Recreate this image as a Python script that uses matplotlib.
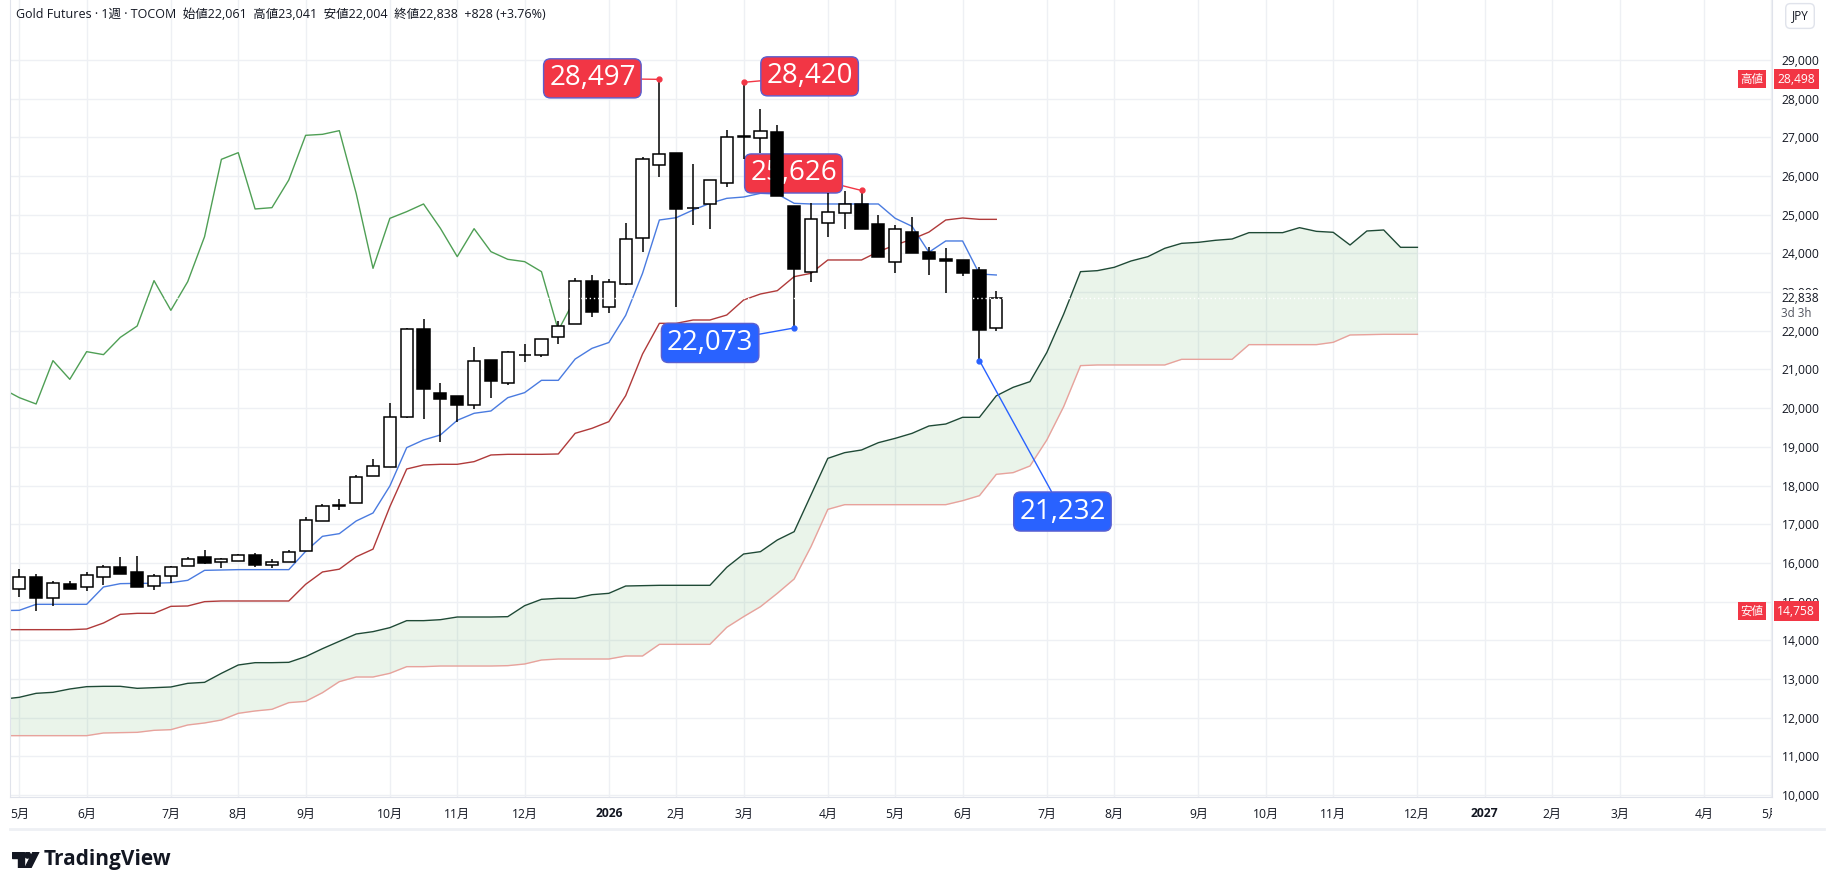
import numpy as np
import matplotlib.pyplot as plt
from matplotlib.patches import Rectangle, Polygon, Circle

plt.rcParams['font.family'] = ['Open Sans', 'Noto Sans CJK JP', 'DejaVu Sans']

# weekly bars, bar 0 = 2025-05-05
opens = [15319, 15638, 15087, 15449, 15371, 15647, 15888, 15759, 15397, 15655,
         15914, 16146, 16017, 16060, 16198, 15957, 16034, 16301, 17076, 17490,
         17541, 18239, 18490, 19764, 22038, 20384, 20316, 20092, 21246, 20643,
         21366, 21366, 21831, 22167, 23278, 22607, 23218, 24389, 26276, 26586,
         25164, 25285, 25810, 26999, 26973, 27137, 25225, 23511, 24777, 25035,
         25268, 24760, 23769, 24562, 24045, 23856, 23830, 23571, 22061]
highs = [15845, 15707, 15535, 15526, 15767, 15948, 16155, 16181, 15707, 15922,
         16146, 16336, 16138, 16220, 16250, 16095, 16336, 17180, 17524, 17645,
         18274, 18678, 20135, 22064, 22305, 20643, 20316, 21573, 21246, 21478,
         21650, 21780, 22253, 23356, 23442, 23339, 24785, 26499, 28497, 26603,
         26301, 25888, 27188, 28420, 27731, 27309, 25225, 25294, 25552, 25612,
         25626, 24992, 24734, 24932, 24174, 24131, 23830, 23640, 23041]
lows = [15130, 14758, 14897, 15337, 15285, 15440, 15724, 15388, 15311, 15491,
        15914, 15974, 15879, 16040, 15897, 15879, 16034, 16301, 17076, 17378,
        17541, 18239, 18472, 19738, 19730, 19136, 19652, 19971, 20272, 20591,
        21203, 21315, 21668, 22167, 22365, 22452, 23183, 24045, 25983, 22624,
        24734, 24639, 25724, 26431, 26586, 25492, 22073, 23252, 24415, 24622,
        24622, 23898, 23485, 24002, 23433, 22986, 23425, 21232, 22004]
closes = [15630, 15104, 15474, 15337, 15681, 15888, 15724, 15388, 15655, 15888,
          16094, 16008, 16094, 16198, 15957, 16017, 16275, 17102, 17464, 17470,
          18213, 18498, 19764, 22038, 20505, 20247, 20092, 21211, 20712, 21444,
          21372, 21780, 22116, 23278, 22495, 23253, 24381, 26431, 26577, 25139,
          25172, 25888, 27016, 27042, 27163, 25492, 23588, 24880, 25061, 25268,
          24639, 23898, 24639, 24002, 23847, 23795, 23502, 22010, 22838]

# ichimoku lines, all starting at bar -1
tenkan = [14770, 14777, 14932, 14932, 14932, 14932, 15380, 15466, 15474, 15474,
          15492, 15552, 15810, 15819, 15828, 15828, 15828, 15828, 16301, 16689,
          16758, 17085, 17292, 17990, 18981, 19179, 19308, 19687, 19868, 19928,
          20272, 20402, 20720, 20720, 21270, 21547, 21697, 22400, 23485, 24863,
          24923, 25121, 25294, 25423, 25457, 25552, 25535, 25294, 25277, 25277,
          25277, 25277, 25277, 24906, 24700, 24030, 24321, 24321, 23468, 23442]
kijun = [14277, 14277, 14277, 14277, 14277, 14294, 14449, 14673, 14699, 14699,
         14880, 14889, 15001, 15018, 15018, 15018, 15018, 15018, 15449, 15768,
         15840, 16160, 16358, 17454, 18429, 18533, 18550, 18550, 18619, 18791,
         18808, 18808, 18808, 18817, 19351, 19480, 19652, 20324, 21400, 22193,
         22193, 22279, 22279, 22408, 22796, 22951, 23037, 23399, 23485, 23830,
         23830, 23830, 24045, 24217, 24368, 24550, 24863, 24915, 24880, 24880]
chikou = [20505, 20273, 20109, 21229, 20746, 21461, 21384, 21831, 22124, 23296,
          22529, 23270, 24433, 26431, 26603, 25148, 25182, 25897, 27051, 27077,
          27172, 25552, 23614, 24906, 25079, 25277, 24648, 23916, 24639, 24045,
          23847, 23787, 23528, 22010, 22838]
span_a = [12480, 12529, 12632, 12658, 12744, 12804, 12813, 12813, 12761, 12778,
          12796, 12890, 12916, 13149, 13364, 13424, 13424, 13433, 13580, 13786,
          13976, 14165, 14226, 14329, 14510, 14510, 14535, 14604, 14604, 14604,
          14613, 14897, 15061, 15087, 15087, 15181, 15216, 15405, 15414, 15423,
          15423, 15423, 15423, 15888, 16232, 16293, 16594, 16809, 17757, 18704,
          18851, 18920, 19109, 19221, 19350, 19540, 19591, 19764, 19764, 20320,
          20539, 20686, 21440, 22430, 23528, 23554, 23640, 23804, 23916, 24131,
          24260, 24286, 24338, 24372, 24536, 24536, 24536, 24665, 24570, 24545,
          24217, 24579, 24605, 24157, 24157]
span_b = [11538, 11538, 11538, 11538, 11538, 11538,
          11607, 11616, 11624, 11676, 11693, 11814, 11866, 11943, 12115, 12176,
          12219, 12391, 12425, 12649, 12934, 13054, 13054, 13149, 13321, 13321,
          13338, 13338, 13338, 13338, 13347, 13390, 13493, 13519, 13519, 13519,
          13519, 13597, 13597, 13898, 13898, 13898, 13898, 14337, 14613, 14871,
          15216, 15586, 16422, 17386, 17507, 17507, 17507, 17507, 17507, 17507,
          17507, 17610, 17740, 18291, 18335, 18507, 19179, 20040, 21100, 21117,
          21117, 21117, 21117, 21117, 21263, 21263, 21263, 21263, 21642, 21642,
          21642, 21642, 21642, 21702, 21892, 21900, 21909, 21909, 21909]

month_pos = [0, 4, 9, 13, 17, 22, 26, 30, 35, 39, 43, 48, 52, 56, 61, 65, 70,
             74, 78, 83, 87, 91, 95, 100, 104]
month_labels = ['5月', '6月', '7月', '8月', '9月', '10月', '11月', '12月', '2026',
                '2月', '3月', '4月', '5月', '6月', '7月', '8月', '9月', '10月',
                '11月', '12月', '2027', '2月', '3月', '4月', '5月']

W, H = 1828, 889
TXT = '#131722'
fig = plt.figure(figsize=(W / 100, H / 100), dpi=100)
ax = fig.add_axes([10 / W, 1 - 797 / H, 1762 / W, 797 / H])
ax.set_xlim(-0.55, 104.05)
ax.set_ylim(9953, 30548)

# grid + axes
ax.set_xticks(month_pos)
ax.set_yticks(range(10000, 30000, 1000))
ax.grid(color='#eef0f4', lw=1)
ax.set_axisbelow(True)
ax.yaxis.tick_right()
ax.yaxis.set_major_formatter(lambda v, p: f'{v:,.0f}')
ax.tick_params(axis='y', length=0, pad=7, labelsize=8.7, labelcolor=TXT)
ax.tick_params(axis='x', length=0, labelbottom=False)
for s in ax.spines.values():
    s.set_color('#e0e3eb')
ax.spines['top'].set_visible(False)

# cloud + ichimoku lines
xa = np.arange(-1, len(span_a) - 1)
ax.fill_between(xa, span_a, span_b, color='#43a047', alpha=0.11, lw=0, zorder=2)
ax.plot(xa, span_a, color='#1f4a36', lw=1.0, zorder=2.2)
ax.plot(xa, span_b, color='#e8a29c', lw=1.0, zorder=2.2)
xl = np.arange(-1, len(tenkan) - 1)
ax.plot(xl, tenkan, color='#4a7be0', lw=1.0, zorder=2.3)
ax.plot(xl, kijun, color='#b03a3a', lw=1.0, zorder=2.3)
ax.plot(np.arange(-1, len(chikou) - 1), chikou, color='#4f9f55', lw=1.0, zorder=2.3)

# candles
for i, (o, h, l, c) in enumerate(zip(opens, highs, lows, closes)):
    ax.plot([i, i], [l, h], color='black', lw=1.1, zorder=4, solid_capstyle='butt')
    ax.add_patch(Rectangle((i - 0.36, min(o, c)), 0.72, max(abs(c - o), 15),
                           fc='white' if c >= o else 'black', ec='black',
                           lw=1.1, zorder=5))

# current price line
ax.axhline(closes[-1], color='white', lw=1, ls=(0, (1, 2)), zorder=6)

# high / low tags
RED, BLUE = '#f23645', '#2962ff'


def tag(i, y, col, dx, dy):
    ax.plot(i, y, 'o', ms=3.5, color=col, zorder=5.5)
    ax.annotate(f'{y:,}', xy=(i, y), xytext=(dx, dy), textcoords='offset pixels',
                ha='center', va='center', fontsize=20, color='white', zorder=3,
                bbox=dict(boxstyle='round,pad=0.2,rounding_size=0.25', fc=col,
                          ec='#5a5fd0', lw=1),
                arrowprops=dict(arrowstyle='-', color=col, lw=1,
                                shrinkA=0, shrinkB=0))


tag(38, highs[38], RED, -67, 1)
tag(43, highs[43], RED, 66, 6)
tag(50, highs[50], RED, -68, 17)
tag(46, lows[46], BLUE, -84, -15)
tag(57, lows[57], BLUE, 83, -151)

# right axis labels
yt = ax.get_yaxis_transform()
for lab, v, val in [('高値', max(highs), '28,498'), ('安値', min(lows), '14,758')]:
    ax.text(0.9885, v, lab, transform=yt, ha='center', va='center', fontsize=8.3,
            color='white', zorder=10, clip_on=False,
            bbox=dict(boxstyle='square,pad=0.22', fc=RED, ec='none'))
    ax.text(1.0138, v, val, transform=yt, ha='center', va='center', fontsize=8.7,
            color='white', zorder=10, clip_on=False,
            bbox=dict(boxstyle='square,pad=0.3', fc=RED, ec='none'))
ax.text(1.0052, closes[-1], f'{closes[-1]:,}', transform=yt, ha='left', va='center',
        fontsize=8.7, color=TXT, zorder=10, clip_on=False,
        bbox=dict(boxstyle='square,pad=0.15', fc='white', ec='none'))
ax.text(1.0052, closes[-1] - 380, '3d 3h', transform=yt, ha='left', va='center',
        fontsize=8.3, color='#50535e', zorder=10, clip_on=False)

# time axis labels
axt = fig.add_axes([10 / W, 1 - 829 / H, 1762 / W, 32 / H], sharex=ax)
axt.axis('off')
for p, lab in zip(month_pos, month_labels):
    axt.text(p, 0.47, lab, ha='center', va='center', fontsize=8.7, color=TXT,
             fontweight='bold' if lab.isdigit() else 'normal', clip_on=True)
fig.add_artist(plt.Line2D([10 / W, 1824 / W], [1 - 829 / H] * 2, color='#eef0f4',
                          lw=2, transform=fig.transFigure))

# header
chg = closes[-1] - closes[-2]
hdr = (f'Gold Futures · 1週 · TOCOM  始値{opens[-1]:,}  高値{highs[-1]:,}  '
       f'安値{lows[-1]:,}  終値{closes[-1]:,}  +{chg:,} '
       f'(+{chg / closes[-2] * 100:.2f}%)')
fig.text(16 / W, 1 - 14 / H, hdr, fontsize=9, va='center', color=TXT)
fig.text(1800 / W, 1 - 16 / H, 'JPY', fontsize=8.5, ha='center', va='center', color=TXT,
         bbox=dict(boxstyle='round,pad=0.5,rounding_size=0.4', fc='white', ec='#e0e3eb'))

# TradingView logo
lax = fig.add_axes([12 / W, 1 - 868 / H, 28 / W, 16 / H])
lax.set_xlim(0, 26)
lax.set_ylim(0, 14)
lax.axis('off')
lax.add_patch(Polygon([(0, 14), (11, 14), (11, 0), (6, 0), (6, 9), (0, 9)], color=TXT))
lax.add_patch(Circle((14.5, 11.3), 2.6, color=TXT))
lax.add_patch(Polygon([(12, 0), (17.5, 0), (25, 14), (19.5, 14)], color=TXT))
fig.text(44 / W, 1 - 860 / H, 'TradingView', fontsize=15, fontweight='bold',
         va='center', color=TXT)

fig.savefig('out.png', dpi=100)
